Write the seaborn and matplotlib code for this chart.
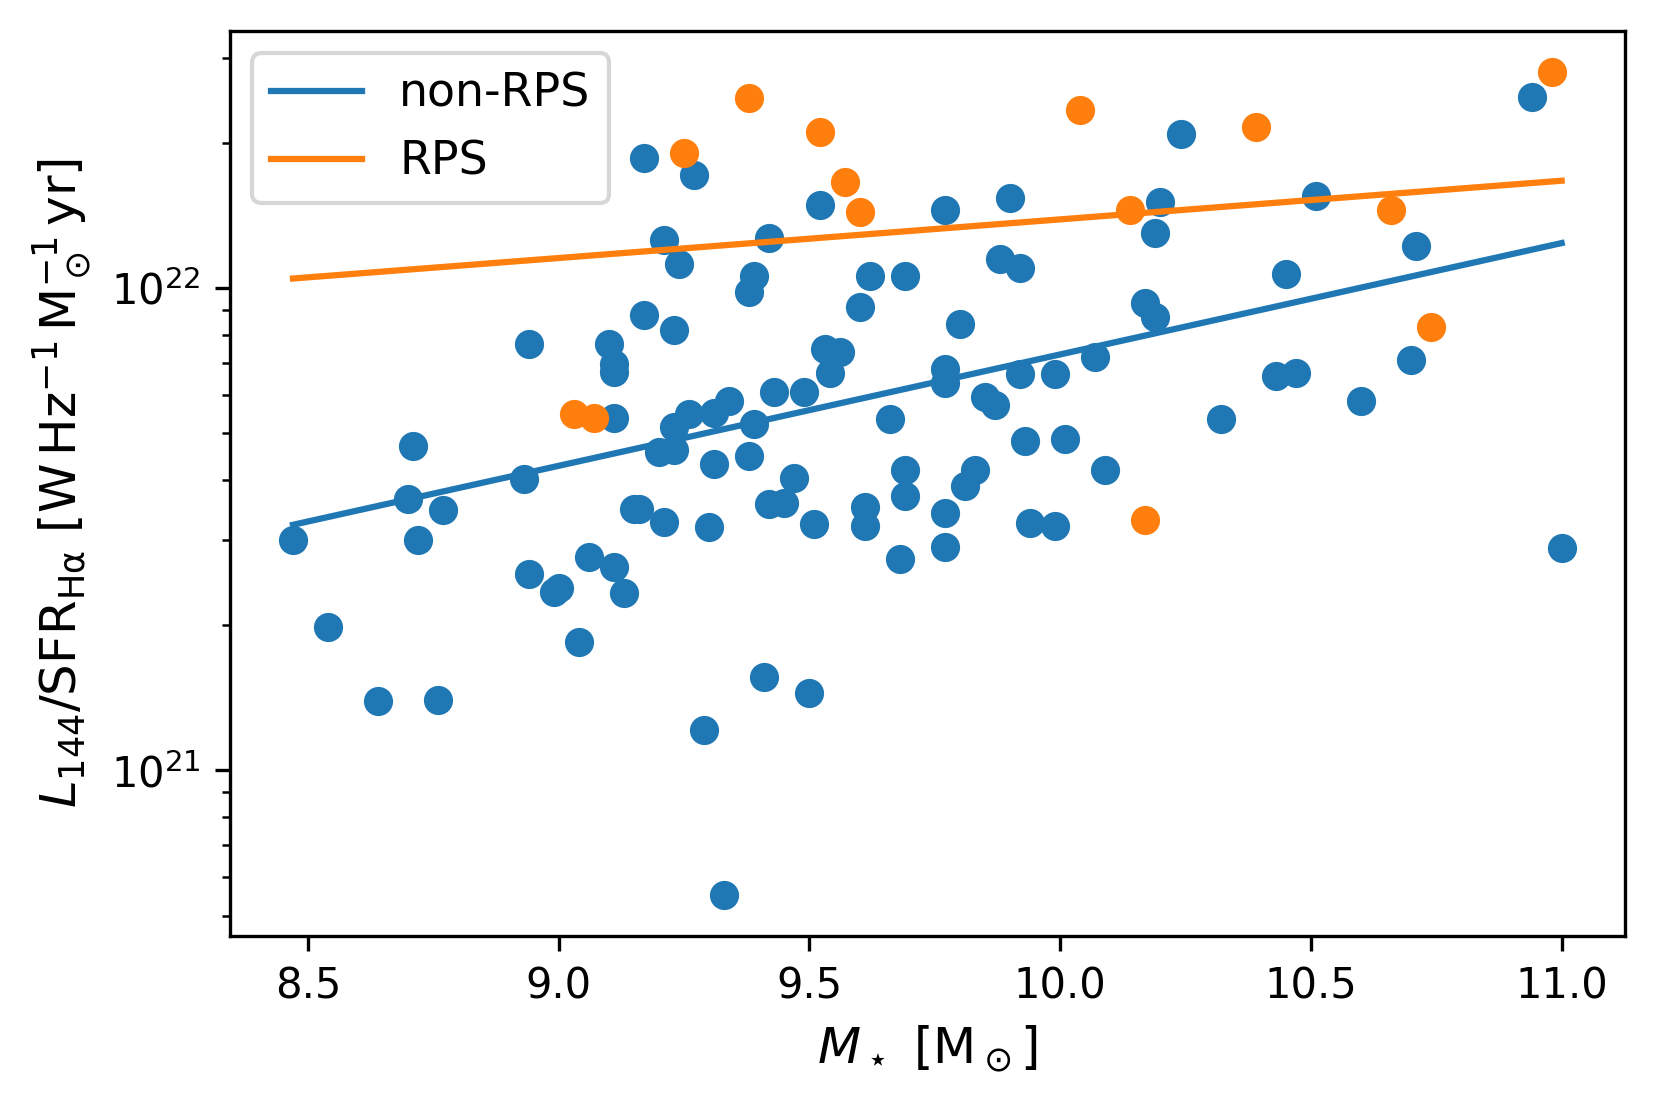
import numpy as np
import pandas as pd
import matplotlib
matplotlib.use("Agg")
import matplotlib.pyplot as plt
import seaborn as sns

# ---- data ----
nonrps_mass = [8.47, 8.54, 8.64, 8.70, 8.71, 8.72, 8.76, 8.77, 8.93, 8.94,
               8.94, 8.99, 9.00, 9.04, 9.06, 9.10, 9.11, 9.11, 9.11, 9.11,
               9.13, 9.15, 9.16, 9.17, 9.17, 9.20, 9.21, 9.21, 9.23, 9.23,
               9.23, 9.24, 9.26, 9.27, 9.29, 9.30, 9.31, 9.31, 9.34, 9.33,
               9.38, 9.39, 9.39, 9.38, 9.41, 9.42, 9.42, 9.43, 9.45, 9.47,
               9.49, 9.50, 9.51, 9.52, 9.53, 9.54, 9.56, 9.60, 9.61, 9.61,
               9.62, 9.66, 9.68, 9.69, 9.69, 9.69, 9.77, 9.77, 9.77, 9.77,
               9.77, 9.80, 9.81, 9.83, 9.85, 9.87, 9.88, 9.90, 9.92, 9.92,
               9.93, 9.94, 9.99, 9.99, 10.01, 10.07, 10.09, 10.17, 10.19, 10.19,
               10.20, 10.24, 10.32, 10.43, 10.47, 10.45, 10.51, 10.60, 10.70, 10.71,
               10.94, 11.00]
nonrps_ratio = [3.00e21, 1.98e21, 1.39e21, 3.65e21, 4.70e21, 3.00e21, 1.40e21, 3.46e21, 4.02e21, 7.65e21,
                2.55e21, 2.34e21, 2.39e21, 1.85e21, 2.77e21, 7.66e21, 6.97e21, 6.70e21, 5.38e21, 2.64e21,
                2.33e21, 3.48e21, 3.48e21, 1.86e22, 8.81e21, 4.57e21, 1.26e22, 3.27e21, 8.17e21, 5.15e21,
                4.61e21, 1.12e22, 5.49e21, 1.72e22, 1.21e21, 3.20e21, 4.31e21, 5.51e21, 5.83e21, 5.52e20,
                9.81e21, 1.06e22, 5.23e21, 4.48e21, 1.56e21, 3.57e21, 1.27e22, 6.08e21, 3.58e21, 4.04e21,
                6.10e21, 1.45e21, 3.25e21, 1.49e22, 7.49e21, 6.68e21, 7.38e21, 9.15e21, 3.52e21, 3.21e21,
                1.06e22, 5.36e21, 2.75e21, 1.06e22, 4.20e21, 3.70e21, 1.45e22, 6.80e21, 6.35e21, 3.41e21,
                2.91e21, 8.44e21, 3.88e21, 4.19e21, 5.96e21, 5.73e21, 1.15e22, 1.54e22, 1.10e22, 6.65e21,
                4.81e21, 3.26e21, 3.21e21, 6.65e21, 4.87e21, 7.20e21, 4.19e21, 9.31e21, 8.70e21, 1.30e22,
                1.51e22, 2.09e22, 5.36e21, 6.56e21, 6.68e21, 1.07e22, 1.55e22, 5.84e21, 7.10e21, 1.22e22,
                2.49e22, 2.89e21]

rps_mass = [9.03, 9.07, 9.25, 9.38, 9.52, 9.57, 9.60, 10.04, 10.14, 10.17,
            10.39, 10.66, 10.74, 10.98]
rps_ratio = [5.47e21, 5.38e21, 1.91e22, 2.48e22, 2.11e22, 1.66e22, 1.44e22, 2.34e22, 1.45e22, 3.30e21,
             2.16e22, 1.45e22, 8.29e21, 2.81e22]

fit_mass = [8.47, 11.00]
fit_nonrps = [3.23e21, 1.24e22]
fit_rps = [1.047e22, 1.67e22]

labels = ["non-RPS", "RPS"]
colors = ["#1f77b4", "#ff7f0e"]

pts_non = pd.DataFrame({"mass": nonrps_mass, "ratio": nonrps_ratio})
pts_rps = pd.DataFrame({"mass": rps_mass, "ratio": rps_ratio})
fit_non = pd.DataFrame({"mass": fit_mass, "ratio": fit_nonrps})
fit_r = pd.DataFrame({"mass": fit_mass, "ratio": fit_rps})

fig, ax = plt.subplots(figsize=(1654 / 300, 1104 / 300), dpi=300)
fig.subplots_adjust(left=0.1388, right=0.9825, top=0.9723, bottom=0.1522)

sns.scatterplot(data=pts_non, x="mass", y="ratio", ax=ax, color=colors[0],
                s=36, edgecolor=colors[0], linewidth=1.0, legend=False, zorder=1)
sns.scatterplot(data=pts_rps, x="mass", y="ratio", ax=ax, color=colors[1],
                s=36, edgecolor=colors[1], linewidth=1.0, legend=False, zorder=1)
sns.lineplot(data=fit_non, x="mass", y="ratio", ax=ax, color=colors[0],
             linewidth=1.5, label=labels[0], zorder=2)
sns.lineplot(data=fit_r, x="mass", y="ratio", ax=ax, color=colors[1],
             linewidth=1.5, label=labels[1], zorder=2)

ax.set_yscale("log")
ax.margins(0.05)
ax.tick_params(labelsize=10)
ax.set_xlabel(r"$M_\star\ [\mathrm{M}_\odot]$", fontsize=12)
ax.set_ylabel(r"$L_{144}/\mathrm{SFR}_{\mathrm{H\alpha}}\ [\mathrm{W\,Hz^{-1}\,M_\odot^{-1}\,yr}]$",
              fontsize=12)
ax.legend(loc="upper left", fontsize=11)

fig.savefig("out.png", dpi=300)
